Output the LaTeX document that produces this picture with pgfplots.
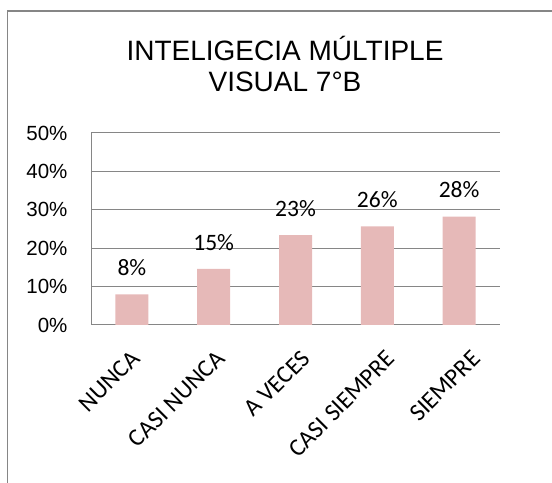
\documentclass[border=0pt]{standalone}
\usepackage{fontspec}
\setmainfont{Liberation Sans}
\newfontfamily\carlito{Carlito}
\usepackage{pgfplots}
\pgfplotsset{compat=1.18}
\definecolor{barc}{RGB}{230,185,184}
\definecolor{gridc}{RGB}{134,134,134}
\begin{document}
\begin{tikzpicture}
\useasboundingbox (0,0) rectangle (552bp,483bp);
\draw[gridc, line width=1.2bp] (7.5bp,-20bp) -- (7.5bp,472bp) -- (580bp,472bp);
\node[align=center, font=\fontsize{28bp}{30.7bp}\selectfont, anchor=base] at (285bp,483bp-61bp-30.7bp) {INTELIGECIA MÚLTIPLE\\VISUAL 7°B};
\begin{axis}[
  at={(91bp,158bp)}, anchor=south west, scale only axis,
  width=409bp, height=192bp,
  xmin=-0.5, xmax=4.5, ymin=0, ymax=50,
  axis x line*=bottom, axis y line*=left,
  axis line style={gridc, line width=1bp},
  ymajorgrids, grid style={gridc, line width=1bp},
  ytick={0,10,20,30,40,50},
  yticklabels={0\%,10\%,20\%,30\%,40\%,50\%},
  yticklabel style={font=\fontsize{20.5bp}{22bp}\selectfont, xshift=-20bp},
  xtick={0,1,2,3,4},
  xticklabels={NUNCA,CASI NUNCA,A VECES,CASI SIEMPRE,SIEMPRE},
  xticklabel style={xshift={(-2+3.3*\ticknum)*1bp}, yshift=-21bp, rotate=45, anchor=north east, inner sep=2bp, font=\carlito\fontsize{24.5bp}{26bp}\selectfont},
  major tick length=0pt,
  ybar, bar width=33bp,
  nodes near coords={\pgfmathprintnumber[assume math mode=true, fixed, precision=0]{\pgfplotspointmeta}\%},
  every node near coord/.append style={font=\carlito\fontsize{23.5bp}{25bp}\selectfont, yshift=15bp},
]
\addplot[fill=barc, draw=none] coordinates {(0,8.0) (1,14.6) (2,23.4) (3,25.7) (4,28.2)};
\end{axis}
\end{tikzpicture}
\end{document}
